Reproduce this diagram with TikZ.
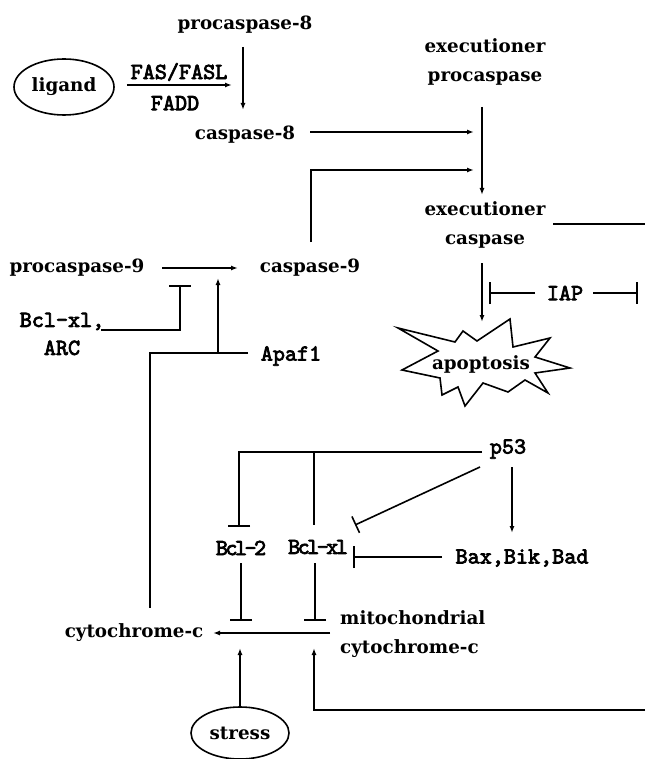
\documentclass[tikz,border=0pt]{standalone}
\usepackage{fontspec}
\setmainfont{DejaVu Serif}
\setmonofont{lmmono10-regular}[Extension=.otf, BoldFont=lmmono10-regular, BoldFeatures={FakeBold=3.2}]
\usetikzlibrary{shapes.geometric, arrows.meta, calc}

\tikzset{
  lab/.style={font=\fontsize{18.3}{29}\selectfont\bfseries, inner sep=2pt},
  gene/.style={font=\fontsize{23}{28}\selectfont\ttfamily\bfseries, inner sep=2pt},
  tight gene/.style={font=\fontsize{23}{28}\selectfont\ttfamily\bfseries\addfontfeature{LetterSpace=-11}, inner sep=2pt},
  arr/.style={-{Latex[length=7pt,width=5pt]}, line width=1.6pt},
  inh/.style={-{Bar[width=22pt,line width=1.6pt]}, line width=1.6pt},
  link/.style={line width=1.6pt},
}

\begin{document}
\begin{tikzpicture}[x=1pt, y=-1pt]
  \useasboundingbox (0,0) rectangle (645,759);
  % receptor branch
  \node[lab] (procasp8) at (245,25) {procaspase-8};
  \node[draw, ellipse, line width=1.6pt, lab, minimum width=100pt, minimum height=56pt] (ligand) at (64,87) {ligand};
  \node[gene] (fasl) at (179,72) {FAS/FASL};
  \node[gene] (fadd) at (175,103) {FADD};
  \node[lab] (casp8) at (245,135) {caspase-8};
  \node[lab, align=center] (execpro) at (485,62) {executioner\\procaspase};
  \node[lab, align=center] (execcasp) at (485,225) {executioner\\caspase};
  \coordinate (edgeA) at (645,224);
  \draw[arr] ($(procasp8)+(-2,22)$) -- ($(casp8)+(-2,-25)$);
  \draw[arr] ($(ligand.east)+(12,-2)$) -- ($(casp8)+(-13,-50)$);
  \draw[arr] ($(casp8)+(65,-3)$) -- ($(execpro)+(-11,70)$);
  \draw[arr] ($(execpro)+(-3,45)$) -- ($(execcasp)+(-3,-30)$);
  \draw[link] ($(execcasp)+(68,-1)$) -- (edgeA);
  % apoptosis and IAP
  \node[lab] (apop) at (481,364) {apoptosis};
  \draw[link, line join=miter, shift={(apop.center)}]
    (-83,-36) -- (-26,-22) -- (-18,-33) -- (-4,-23) -- (29,-45) -- (32,-17)
    -- (69,-26) -- (54,-7) -- (89,4) -- (54,9) -- (67,29) -- (44,16)
    -- (27,28) -- (2,19) -- (-16,42) -- (-23,23) -- (-39,31) -- (-41,14)
    -- (-79,6) -- (-43,-13) -- cycle;
  \node[gene] (iap) at (565,293) {IAP};
  \draw[arr] ($(execcasp)+(-3,38)$) -- ($(apop)+(1,-42)$);
  \draw[inh] ($(iap)+(-30,0)$) -- ($(iap)+(-76,0)$);
  \draw[inh] ($(iap)+(28,0)$) -- ($(iap)+(73,0)$);
  % caspase-9 branch
  \node[lab] (procasp9) at (77,268) {procaspase-9};
  \node[lab] (casp9) at (310,268) {caspase-9};
  \node[gene, align=center] (bclarc) at (62,334) {Bcl-xl,\\ARC};
  \node[gene] (apaf) at (291,356) {Apaf1};
  \node[lab] (cytc) at (134,633) {cytochrome-c};
  \coordinate (apj) at ($(apaf)+(-73,-3)$);
  \draw[arr] ($(casp9)+(1,-26)$) |- ($(execpro)+(-11,108)$);
  \draw[arr] ($(procasp9)+(85,0)$) -- ($(casp9)+(-72,0)$);
  \draw[inh] ($(bclarc)+(39,-4)$) -| ($(procasp9)+(103,17)$);
  \draw[link] ($(apaf)+(-43,-3)$) -| ($(cytc)+(16,-25)$);
  \draw[arr] (apj) -- ($(casp9)+(-92,10)$);
  % p53 and the Bcl family
  \node[gene] (p53) at (508,449) {p53};
  \node[tight gene] (bcl2) at (241,548) {Bcl-2};
  \node[tight gene] (bclxl) at (318,547) {Bcl-xl};
  \node[gene] (bax) at (522,558) {Bax,Bik,Bad};
  \draw[inh] ($(p53)+(-26,3)$) -| ($(bcl2)+(-2,-21)$);
  \draw[link] ($(bclxl)+(-4,-95)$) -- ($(bclxl)+(-4,-22)$);
  \draw[-{Bar[width=18pt,line width=1.6pt]}, line width=1.6pt] ($(p53)+(-28,18)$) -- ($(bclxl)+(37,-22)$);
  \draw[arr] ($(p53)+(4,18)$) -- ($(bax)+(-10,-25)$);
  \draw[inh] ($(bax)+(-80,-1)$) -- ($(bclxl)+(35,10)$);
  \draw[inh] ($(bcl2)+(0,15)$) -- ($(bcl2)+(0,73)$);
  \draw[inh] ($(bclxl)+(-3,16)$) -- ($(bclxl)+(-3,74)$);
  % mitochondrial release
  \node[lab, anchor=west, align=left] (mito) at (338,634) {mitochondrial\\cytochrome-c};
  \node[draw, ellipse, line width=1.6pt, lab, minimum width=98pt, minimum height=52pt] (stress) at (240,733) {stress};
  \coordinate (edgeB) at (645,710);
  \draw[arr] ($(mito.west)+(-8,-1)$) -- ($(cytc)+(79,0)$);
  \draw[arr] (stress.north) -- ($(bcl2)+(-1,100)$);
  \draw[arr] (edgeB) -| ($(bclxl)+(-4,101)$);
\end{tikzpicture}
\end{document}
